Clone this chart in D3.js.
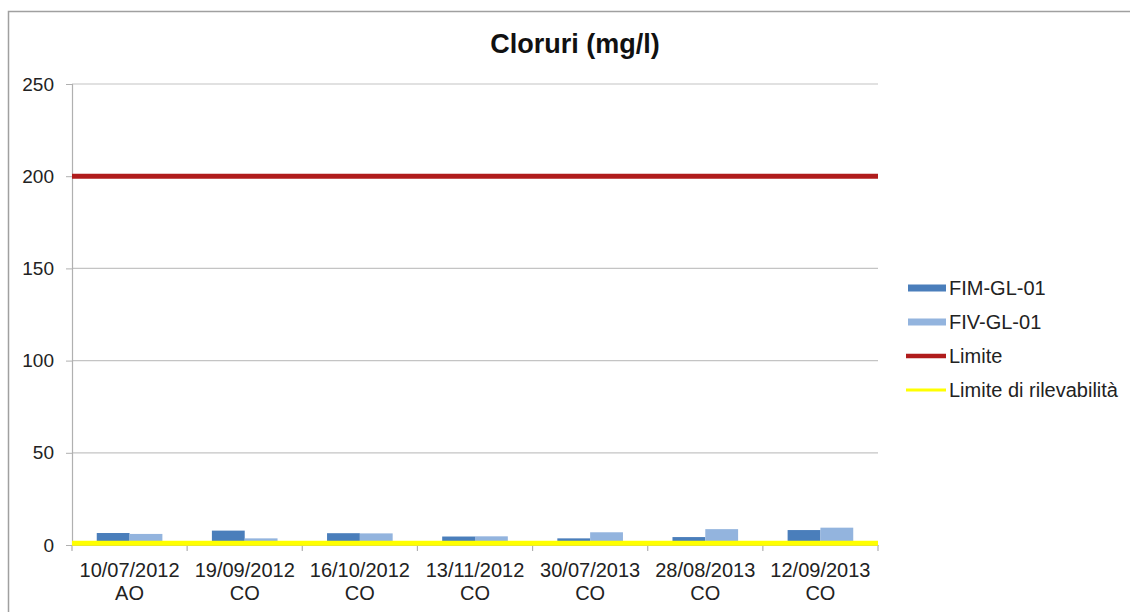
<!DOCTYPE html>
<html><head><meta charset="utf-8">
<script src="https://cdn.jsdelivr.net/npm/d3@7"></script>
<style>body{margin:0;background:#fff}svg{display:block;font-family:"Liberation Sans",Arial,sans-serif}</style>
</head><body>
<script>
const categories = ["10/07/2012|AO","19/09/2012|CO","16/10/2012|CO","13/11/2012|CO","30/07/2013|CO","28/08/2013|CO","12/09/2013|CO"];
const seriesNames = ["FIM-GL-01","FIV-GL-01"];
const fimValues = [6.5, 7.8, 6.4, 4.6, 3.6, 4.3, 8.1];
const fivValues = [6.0, 3.6, 6.3, 4.7, 6.9, 8.6, 9.4];
const limiteValue = 200;
const rilevabilitaValue = 1;
const yTicks = [0, 50, 100, 150, 200, 250];
const colors = {"FIM-GL-01":"#4a7ebb","FIV-GL-01":"#93b4de"};

(function(){
const W = 1130, H = 612;
const svg = d3.select("body").append("svg").attr("width", W).attr("height", H);
// outer frame
svg.append("path").attr("d", `M8.5,${H+5} L8.5,11.5 L${W+5},11.5`).attr("fill","none").attr("stroke","#a0a0a0").attr("stroke-width",1.5);

const pl = 72, pr = 878, pt = 84, pb = 545;
const y = d3.scaleLinear().domain([0, 250]).range([pb, pt]);
const x0 = d3.scaleBand().domain(categories).range([pl, pr]);
const bw = x0.bandwidth();
const x1 = d3.scaleBand().domain(seriesNames).range([bw*0.215, bw*0.785]);

// gridlines
svg.append("g").selectAll("line").data(yTicks.filter(d=>d>0)).join("line")
  .attr("x1", pl).attr("x2", pr).attr("y1", d=>y(d)).attr("y2", d=>y(d))
  .attr("stroke","#c4c4c4").attr("stroke-width",1.2);

// y axis
const yAxis = d3.axisLeft(y).tickValues(yTicks).tickSize(6).tickPadding(12);
const gy = svg.append("g").attr("transform",`translate(${pl},0)`).call(yAxis);
gy.select(".domain").attr("stroke","#b0b0b0").attr("stroke-width",1.2);
gy.selectAll(".tick line").attr("stroke","#b0b0b0");
gy.selectAll("text").attr("font-size","19px").attr("fill","#222").attr("font-family","Liberation Sans, Arial, sans-serif");

// x axis
const xAxis = d3.axisBottom(x0).tickSize(0).tickFormat(()=>"");
const gx = svg.append("g").attr("transform",`translate(0,${pb})`).call(xAxis);
gx.select(".domain").attr("stroke","#b0b0b0").attr("stroke-width",1.2);
const bounds = categories.map(c=>x0(c)).concat([pr]);
svg.append("g").selectAll("line").data(bounds).join("line")
  .attr("x1",d=>d).attr("x2",d=>d).attr("y1",pb).attr("y2",pb+6)
  .attr("stroke","#b0b0b0").attr("stroke-width",1.2);
const lab = svg.append("g").selectAll("text").data(categories).join("text")
  .attr("x", d=>x0(d)+bw/2).attr("text-anchor","middle").attr("font-size","20px").attr("fill","#222");
lab.append("tspan").attr("x", d=>x0(d)+bw/2).attr("y",577).text(d=>d.split("|")[0]);
lab.append("tspan").attr("x", d=>x0(d)+bw/2).attr("y",600).text(d=>d.split("|")[1]);

// bars
const data = categories.map((c,i)=>({c, vals:[{s:"FIM-GL-01",v:fimValues[i]},{s:"FIV-GL-01",v:fivValues[i]}]}));
svg.append("g").selectAll("g").data(data).join("g")
  .attr("transform", d=>`translate(${x0(d.c)},0)`)
  .selectAll("rect").data(d=>d.vals).join("rect")
  .attr("x", d=>x1(d.s)).attr("width", x1.bandwidth())
  .attr("y", d=>y(d.v)).attr("height", d=>y(0)-y(d.v)).attr("fill", d=>colors[d.s]);

// limit lines
svg.append("line").attr("x1",pl).attr("x2",pr).attr("y1",y(limiteValue)).attr("y2",y(limiteValue))
  .attr("stroke","#b01c1c").attr("stroke-width",5);
svg.append("line").attr("x1",pl).attr("x2",pr).attr("y1",y(rilevabilitaValue)).attr("y2",y(rilevabilitaValue))
  .attr("stroke","#ffff00").attr("stroke-width",5);

// title
svg.append("text").attr("x",575).attr("y",53).attr("text-anchor","middle")
  .attr("font-size","27px").attr("font-weight","bold").attr("fill","#111").text("Cloruri (mg/l)");

// legend
const legend = [
  {name:"FIM-GL-01", color:colors["FIM-GL-01"], w:7, x0:908},
  {name:"FIV-GL-01", color:colors["FIV-GL-01"], w:7, x0:908},
  {name:"Limite", color:"#b01c1c", w:4.5, x0:906},
  {name:"Limite di rilevabilità", color:"#ffff00", w:3, x0:906}
];
const lg = svg.append("g").selectAll("g").data(legend).join("g")
  .attr("transform",(d,i)=>`translate(0,${288 + i*34})`);
lg.append("line").attr("x1",d=>d.x0).attr("x2",946).attr("y1",0).attr("y2",0)
  .attr("stroke",d=>d.color).attr("stroke-width",d=>d.w);
lg.append("text").attr("x",949).attr("y",7).attr("font-size","20px").attr("fill","#222").text(d=>d.name);
})();
</script>
</body></html>
